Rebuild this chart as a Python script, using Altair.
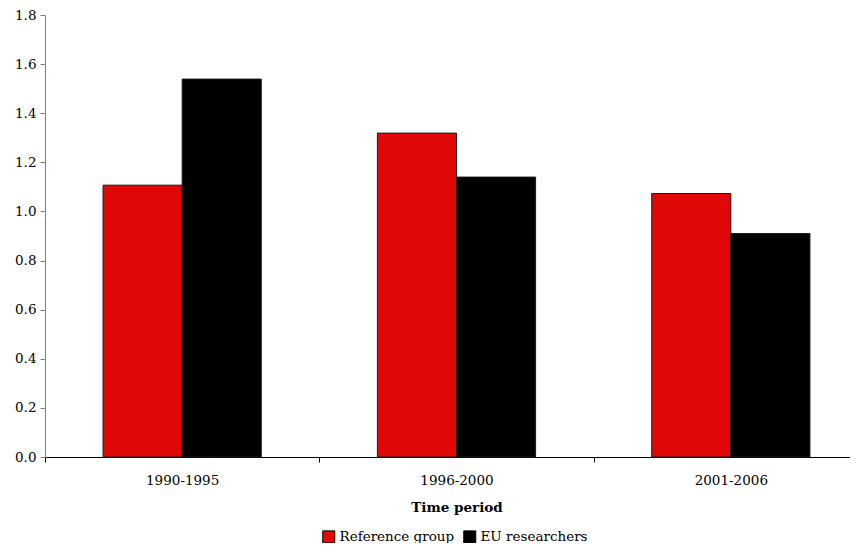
import altair as alt
import pandas as pd

periods = ["1990-1995", "1996-2000", "2001-2006"]
series = ["Reference group", "EU researchers"]
reference_group = [1.107, 1.319, 1.073]
eu_researchers = [1.539, 1.140, 0.910]
colors = ["#E00806", "#000000"]
y_ticks = [0.0, 0.2, 0.4, 0.6, 0.8, 1.0, 1.2, 1.4, 1.6, 1.8]

rows = []
for p, r, e in zip(periods, reference_group, eu_researchers):
    rows.append({"period": p, "series": series[0], "value": r})
    rows.append({"period": p, "series": series[1], "value": e})
df = pd.DataFrame(rows)

FONT = "DejaVu Serif"

chart = alt.Chart(df).mark_bar(stroke="#1a1a1a", strokeWidth=1).encode(
    x=alt.X(
        "period:N", sort=periods, title="Time period",
        scale=alt.Scale(paddingInner=0, paddingOuter=0),
        axis=alt.Axis(labelAngle=0, tickBand="extent", tickSize=5, labelPadding=11,
                      titlePadding=14, domainColor="#000000", tickColor="#000000",
                      labelFont=FONT, labelFontSize=13.5, labelColor="#000000",
                      titleFont=FONT, titleFontSize=13.5, titleFontWeight="bold",
                      titleColor="#000000"),
    ),
    xOffset=alt.XOffset("series:N", sort=series,
                        scale=alt.Scale(paddingInner=0, paddingOuter=0.734)),
    y=alt.Y(
        "value:Q", title=None,
        scale=alt.Scale(domain=[0, 1.8], nice=False, zero=True),
        axis=alt.Axis(values=y_ticks, format=".1f", grid=False, tickSize=5,
                      labelPadding=4, domainColor="#808080", tickColor="#808080",
                      labelFont=FONT, labelFontSize=13.5, labelColor="#000000"),
    ),
    color=alt.Color(
        "series:N", sort=series,
        scale=alt.Scale(domain=series, range=colors),
        legend=alt.Legend(orient="none", legendX=277, legendY=515, direction="horizontal",
                          title=None, symbolType="square", symbolSize=144,
                          symbolStrokeColor="#000000", symbolStrokeWidth=1,
                          symbolOpacity=1, labelFont=FONT, labelFontSize=13.5,
                          labelColor="#000000", labelOffset=4, columnPadding=6),
    ),
).properties(
    width=823, height=442,
    autosize="none",
    padding={"left": 37, "top": 7, "right": -18, "bottom": 86},
).configure_view(stroke=None)

chart.save("out.html", embed_options={"renderer": "svg", "actions": False})
